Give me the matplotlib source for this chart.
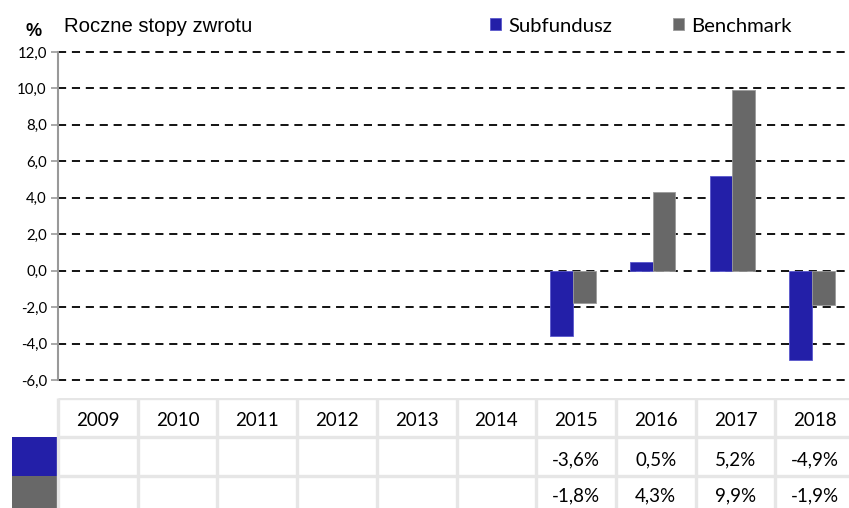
import numpy as np
import matplotlib
matplotlib.use("Agg")
import matplotlib.pyplot as plt
from matplotlib.patches import Rectangle

# data
years = ["2009", "2010", "2011", "2012", "2013", "2014", "2015", "2016", "2017", "2018"]
subfundusz = [np.nan] * 6 + [-3.6, 0.5, 5.2, -4.9]
benchmark = [np.nan] * 6 + [-1.8, 4.3, 9.9, -1.9]
yticks = [-6, -4, -2, 0, 2, 4, 6, 8, 10, 12]

BLUE = "#231fa8"
GRAY = "#686868"
LINE = "#e6e6e6"

W, H = 849, 508
fig = plt.figure(figsize=(W / 100, H / 100), dpi=100)

# chart area in pixels
x0, x1 = 58, 855
ytop, ybot = 52, 380
ax = fig.add_axes([x0 / W, 1 - ybot / H, (x1 - x0) / W, (ybot - ytop) / H])

x = np.arange(len(years))
bw = 0.285
off = -0.04
b1 = ax.bar(x + off - bw / 2, subfundusz, bw, color=BLUE, edgecolor="#5a58cc", linewidth=0.6, label="Subfundusz", zorder=3)
b2 = ax.bar(x + off + bw / 2, benchmark, bw, color=GRAY, edgecolor="#9a9a9a", linewidth=0.6, label="Benchmark", zorder=3)

ax.set_xlim(-0.5, len(years) - 0.5)
ax.set_ylim(-6, 12)
ax.set_yticks(yticks)
# comma as decimal separator
ax.set_yticklabels([("%.1f" % v).replace(".", ",") for v in yticks], fontfamily="Lato", fontsize=10.8)
ax.yaxis.set_tick_params(length=5, color="#999999", width=1.2, pad=3)
ax.set_xticks([])
for v in yticks:
    ax.axhline(v, color="black", lw=1.3, linestyle=(0, (4.5, 3.2)), zorder=2, clip_on=False)
for s in ["top", "right", "bottom"]:
    ax.spines[s].set_visible(False)
ax.spines["left"].set_color("#999999")
ax.spines["left"].set_linewidth(1.5)

fig.text(26 / W, 1 - 31 / H, "%", fontfamily="Liberation Sans", fontweight="bold", fontsize=13, va="center")
fig.text(64 / W, 1 - 26 / H, "Roczne stopy zwrotu", fontfamily="Liberation Sans", fontsize=14.6, va="center")

leg = fig.legend(handles=[b1, b2], loc="center left", bbox_to_anchor=(490 / W, 1 - 26 / H),
                 ncol=2, frameon=False, handlelength=0.55, handleheight=0.55, handletextpad=0.35,
                 columnspacing=3.0, borderaxespad=0, borderpad=0,
                 prop={"family": "Lato", "size": 14.6})

# table below the chart
tl = 12
ext = (x0 - tl) / ((x1 - x0) / len(years))
rowh = 39
ttop = 398
tbot = ttop + 3 * rowh
tax = fig.add_axes([tl / W, 1 - tbot / H, (x1 - tl) / W, (tbot - ttop) / H])
tax.set_xlim(-0.5 - ext, len(years) - 0.5)
tax.set_ylim(3, 0)
tax.axis("off")

tax.add_patch(Rectangle((-0.5 - ext, 1), ext, 1, color=BLUE, lw=0))
tax.add_patch(Rectangle((-0.5 - ext, 2), ext, 1, color=GRAY, lw=0))

for r in [0, 1, 2]:
    tax.plot([-0.5, len(years) - 0.5], [r, r], color=LINE, lw=2.4, solid_capstyle="butt")
for c in range(len(years) + 1):
    tax.plot([c - 0.5, c - 0.5], [0, 3], color=LINE, lw=2.4, solid_capstyle="butt")

def fmt(v):
    return "" if np.isnan(v) else ("%.1f%%" % v).replace(".", ",")

for i, yr in enumerate(years):
    tax.text(i, 0.58, yr, ha="center", va="center", fontfamily="Lato", fontsize=13.5)
    tax.text(i, 1.58, fmt(subfundusz[i]), ha="center", va="center", fontfamily="Lato", fontsize=13.5)
    tax.text(i, 2.52, fmt(benchmark[i]), ha="center", va="center", fontfamily="Lato", fontsize=13.5)

fig.savefig("out.png", dpi=100)
